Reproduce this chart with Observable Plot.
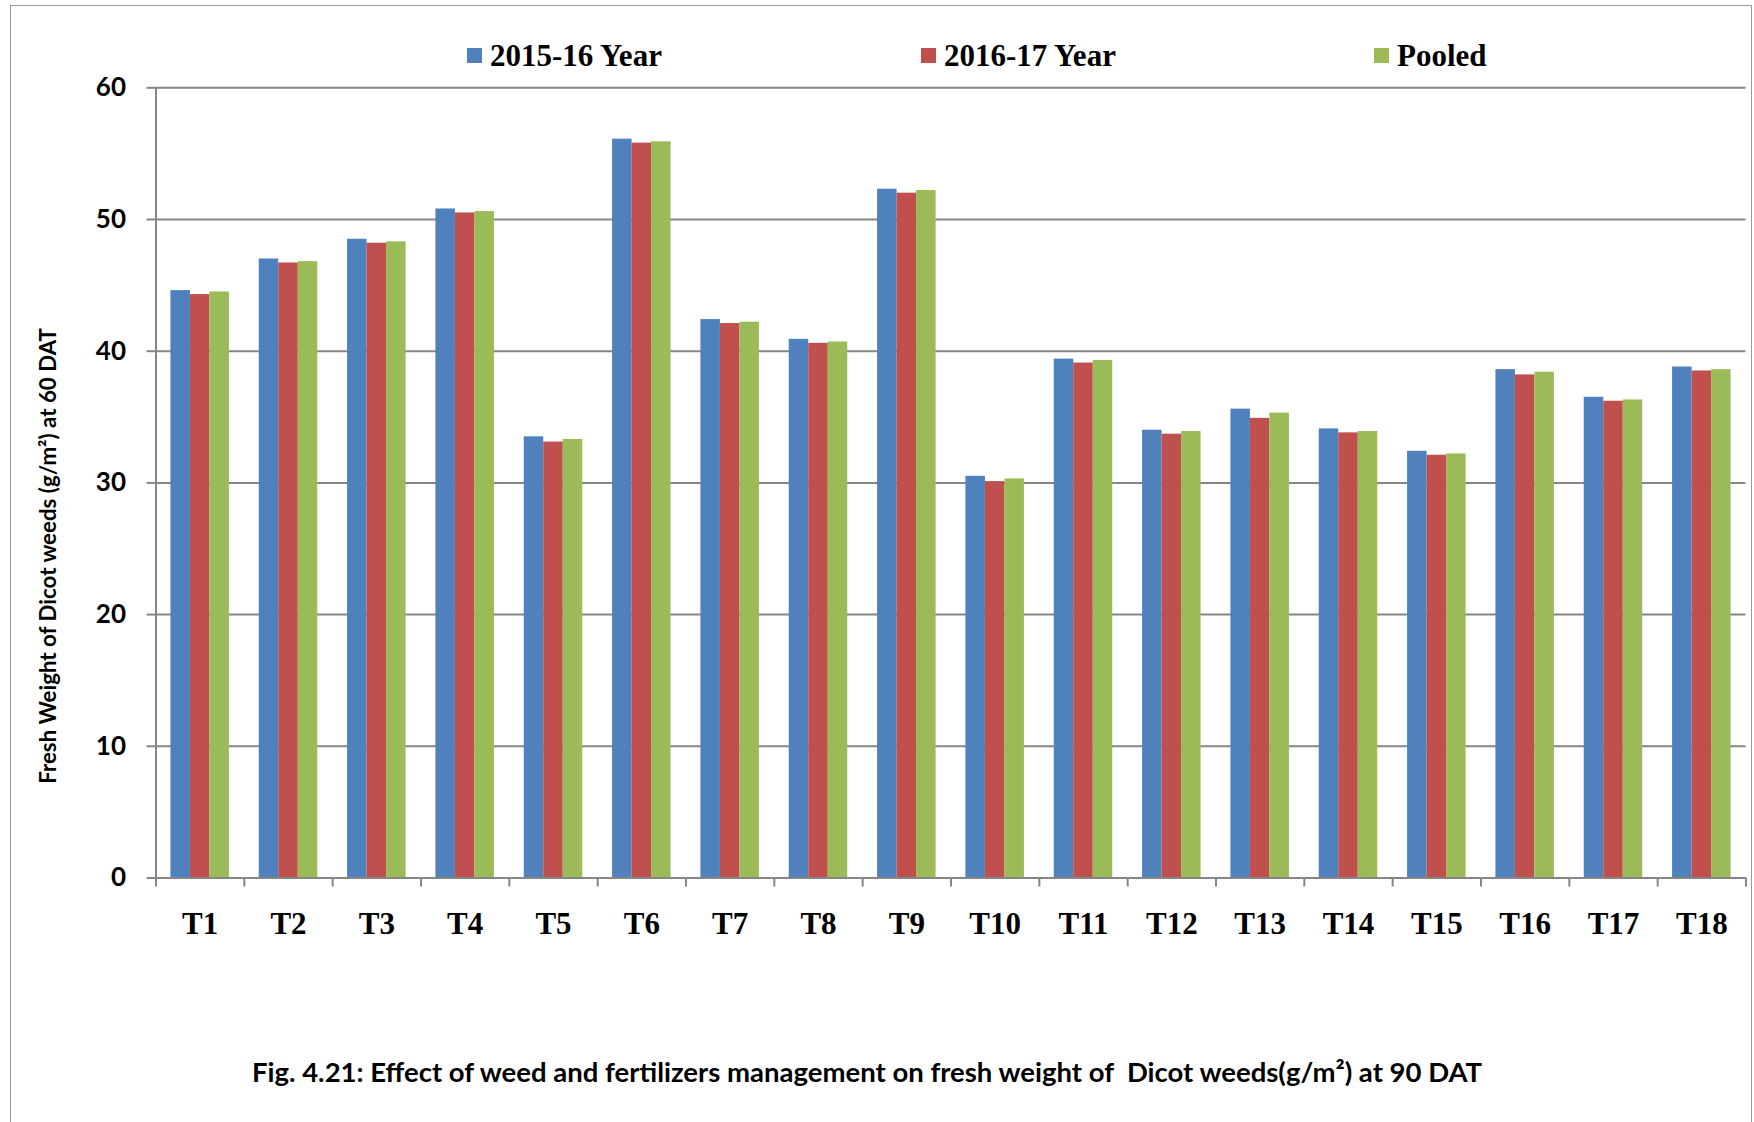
<!DOCTYPE html>
<html><head><meta charset="utf-8">
<script src="https://cdn.jsdelivr.net/npm/d3@7"></script>
<script src="https://cdn.jsdelivr.net/npm/@observablehq/plot@0.6"></script>
<style>
body{margin:0;background:#fff;}
#wrap{position:relative;width:1754px;height:1122px;overflow:hidden;background:#fff;}
#frame{position:absolute;left:10px;top:5px;width:1742px;height:1200px;border:1.5px solid #9a9a9a;box-sizing:border-box;}
.leg{position:absolute;top:40px;display:flex;align-items:center;font-family:"Liberation Serif","Times New Roman",serif;font-weight:bold;font-size:31px;line-height:31px;color:#000;white-space:nowrap;}
.sw{width:15px;height:15px;margin-right:8px;}
#chart{position:absolute;left:0;top:70px;}
#caption{position:absolute;top:1055px;left:0;width:1734px;text-align:center;font-family:Lato,"Noto Sans",sans-serif;font-weight:bold;font-size:27.5px;color:#000;white-space:pre;}
</style></head>
<body>
<div id="wrap">
  <div id="frame"></div>
  <div id="legend"></div>
  <div id="chart"></div>
  <div id="caption"></div>
</div>
<script>
// ---- data ----
const treatments = ["T1","T2","T3","T4","T5","T6","T7","T8","T9","T10","T11","T12","T13","T14","T15","T16","T17","T18"];
const year1516 = [44.6, 47.0, 48.5, 50.8, 33.5, 56.1, 42.4, 40.9, 52.3, 30.5, 39.4, 34.0, 35.6, 34.1, 32.4, 38.6, 36.5, 38.8];
const year1617 = [44.3, 46.7, 48.2, 50.5, 33.1, 55.8, 42.1, 40.6, 52.0, 30.1, 39.1, 33.7, 34.9, 33.8, 32.1, 38.2, 36.2, 38.5];
const pooled   = [44.5, 46.8, 48.3, 50.6, 33.3, 55.9, 42.2, 40.7, 52.2, 30.3, 39.3, 33.9, 35.3, 33.9, 32.2, 38.4, 36.3, 38.6];
const seriesNames = ["2015-16 Year", "2016-17 Year", "Pooled"];
const seriesColors = ["#4F81BD", "#C0504D", "#9BBB59"];
const yTicks = [0, 10, 20, 30, 40, 50, 60];
const yLabel = "Fresh Weight of Dicot weeds (g/m\u00B2) at 60 DAT";
const captionText = "Fig. 4.21: Effect of weed and fertilizers management on fresh weight of  Dicot weeds(g/m\u00B2) at 90 DAT";

// ---- legend ----
const legendLeft = [467, 921, 1374];
const legend = document.getElementById("legend");
seriesNames.forEach((name, i) => {
  const item = document.createElement("div");
  item.className = "leg";
  item.style.left = legendLeft[i] + "px";
  const sw = document.createElement("span");
  sw.className = "sw";
  sw.style.background = seriesColors[i];
  const tx = document.createElement("span");
  tx.textContent = name;
  item.appendChild(sw); item.appendChild(tx);
  legend.appendChild(item);
});
document.getElementById("caption").textContent = captionText;

// ---- chart ----
const W = 1754, H = 900, mL = 155.5, mR = 8.5, mT = 17.3, mB = 92.5;
const bw = (W - mL - mR) / treatments.length;
const barW = 19.5;
const gap = (bw - 3 * barW) / 2;
const seriesValues = [year1516, year1617, pooled];
const rows = seriesValues.map(vals => treatments.map((t, j) => ({t, v: vals[j]})));
const grid = "#868686";

const barMarks = rows.map((data, i) => Plot.barY(data, {
  x: "t", y: "v", fill: seriesColors[i],
  insetLeft: gap + i * barW,
  insetRight: bw - gap - (i + 1) * barW
}));

const chart = Plot.plot({
  width: W, height: H,
  marginTop: mT, marginBottom: mB, marginLeft: mL, marginRight: mR,
  x: {domain: treatments, padding: 0, round: false},
  y: {domain: [0, 60]},
  style: {background: "transparent", overflow: "visible"},
  marks: [
    Plot.gridY(yTicks, {stroke: grid, strokeOpacity: 1, strokeWidth: 2}),
    ...barMarks,
    Plot.ruleY([0], {stroke: grid, strokeWidth: 2}),
    Plot.ruleX([treatments[0]], {y1: 0, y2: 60, dx: -bw / 2, stroke: grid, strokeWidth: 2}),
    Plot.ruleX(treatments, {y1: 0, y2: 0, dx: -bw / 2, insetTop: 9, stroke: grid, strokeWidth: 2}),
    Plot.ruleX([treatments[treatments.length - 1]], {y1: 0, y2: 0, dx: bw / 2, insetTop: 9, stroke: grid, strokeWidth: 2}),
    Plot.axisY(yTicks, {tickSize: 9, tickPadding: 21, stroke: grid, strokeWidth: 2, fill: "#000",
      fontSize: 26, fontFamily: "Lato", fontWeight: "bold", label: null}),
    Plot.axisX({tickSize: 0, tickPadding: 34, fill: "#000", fontSize: 31,
      fontFamily: "Liberation Serif", fontWeight: "bold", label: null}),
    Plot.text([yLabel], {text: d => d, frameAnchor: "left", textAnchor: "middle", rotate: -90, dx: -107, dy: 73,
      fontSize: 22.3, fontFamily: "Lato", fontWeight: "bold", fill: "#000"})
  ]
});
document.getElementById("chart").appendChild(chart);
</script>
</body></html>
